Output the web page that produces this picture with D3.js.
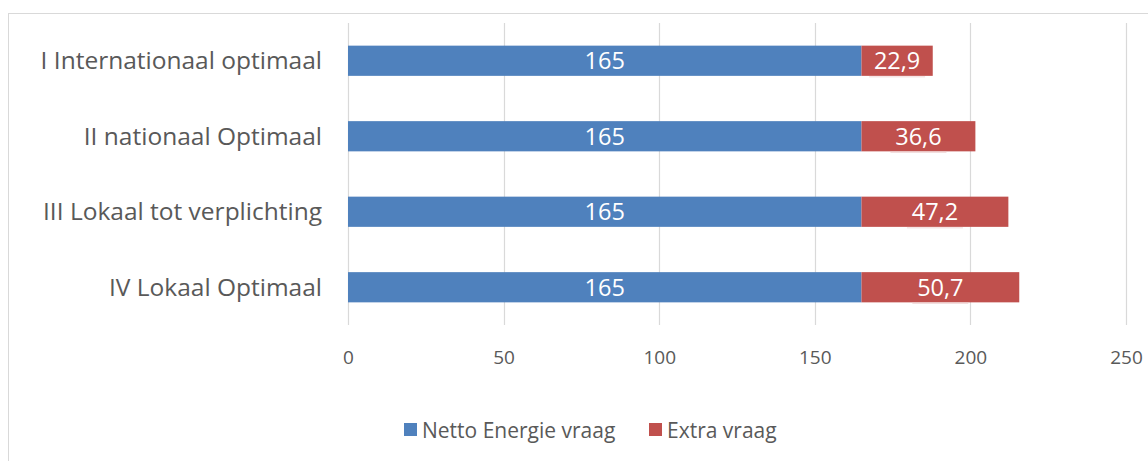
<!DOCTYPE html>
<html><head><meta charset="utf-8">
<script src="https://cdn.jsdelivr.net/npm/d3@7/dist/d3.min.js"></script>
<style>body{margin:0;background:#fff}svg{display:block}</style>
</head><body>
<script>
const categories = ["I Internationaal optimaal","II nationaal Optimaal","III Lokaal tot verplichting","IV Lokaal Optimaal"];
const netto = [165,165,165,165];
const extra = [22.9,36.6,47.2,50.7];
const extraLabels = ["22,9","36,6","47,2","50,7"];
const seriesNames = ["Netto Energie vraag","Extra vraag"];
const xTicks = [0,50,100,150,200,250];

const W=1148,H=461;
const font="'Open Sans', 'Noto Sans', sans-serif";
const svg=d3.select("body").append("svg").attr("width",W).attr("height",H);
svg.append("rect").attr("x",8.5).attr("y",13.5).attr("width",W).attr("height",H).attr("fill","#fff").attr("stroke","#d9d9d9");

const x=d3.scaleLinear().domain([0,250]).range([348,1126]);
const y=d3.scaleBand().domain(categories).range([23,325]).paddingInner(0.6).paddingOuter(0.3);

const g=svg.append("g");
g.selectAll("line.grid").data(xTicks).join("line").attr("class","grid")
 .attr("x1",d=>Math.round(x(d))+0.5).attr("x2",d=>Math.round(x(d))+0.5)
 .attr("y1",23).attr("y2",325).attr("stroke","#d9d9d9").attr("stroke-width",1.2);

const xAxis=d3.axisBottom(x).tickValues(xTicks).tickSize(0).tickPadding(0);
const ax=svg.append("g").attr("transform","translate(0,364)").call(xAxis);
ax.select(".domain").remove();
ax.selectAll("text").attr("font-family",font).attr("font-size",19).attr("fill","#595959").attr("dy",0);

const yAxis=d3.axisLeft(y).tickSize(0).tickPadding(0);
const ay=svg.append("g").attr("transform","translate(322,0)").call(yAxis);
ay.select(".domain").remove();
ay.selectAll("text").attr("font-family",font).attr("font-size",24.5).attr("fill","#595959").attr("dy","0.35em");

const blue="#4F81BD", red="#C0504D";
g.selectAll("rect.n").data(categories).join("rect").attr("class","n")
 .attr("x",x(0)).attr("y",d=>y(d)).attr("width",(d,i)=>x(netto[i])-x(0)).attr("height",y.bandwidth()).attr("fill",blue);
g.selectAll("rect.e").data(categories).join("rect").attr("class","e")
 .attr("x",(d,i)=>x(netto[i])).attr("y",d=>y(d)).attr("width",(d,i)=>x(netto[i]+extra[i])-x(netto[i])).attr("height",y.bandwidth()).attr("fill",red);

g.selectAll("text.nl").data(categories).join("text").attr("class","nl")
 .attr("x",(d,i)=>(x(0)+x(netto[i]))/2).attr("y",d=>y(d)+y.bandwidth()/2).attr("dy","0.36em")
 .attr("text-anchor","middle").attr("font-family",font).attr("font-size",23.5).attr("fill","#fff").text((d,i)=>netto[i]);

const cx=(i)=>(x(netto[i])+x(netto[i]+extra[i]))/2;
g.selectAll("line.lb").data(categories).join("line").attr("class","lb")
 .attr("x1",(d,i)=>cx(i)-28).attr("x2",(d,i)=>cx(i)+28)
 .attr("y1",d=>y(d)+y.bandwidth()+1).attr("y2",d=>y(d)+y.bandwidth()+1)
 .attr("stroke","#f0d8d8").attr("stroke-width",1);
g.selectAll("text.el").data(categories).join("text").attr("class","el")
 .attr("x",(d,i)=>cx(i)).attr("y",d=>y(d)+y.bandwidth()/2).attr("dy","0.36em")
 .attr("text-anchor","middle").attr("font-family",font).attr("font-size",23.5).attr("fill","#fff").text((d,i)=>extraLabels[i]);

const leg=svg.append("g");
const lx=[404,649];
seriesNames.forEach((s,i)=>{
  leg.append("rect").attr("x",lx[i]).attr("y",423).attr("width",13).attr("height",13).attr("fill",[blue,red][i]);
  leg.append("text").attr("x",lx[i]+18).attr("y",430).attr("dy","0.36em").attr("font-family",font).attr("font-size",21).attr("fill","#595959").text(s);
});
</script>
</body></html>
